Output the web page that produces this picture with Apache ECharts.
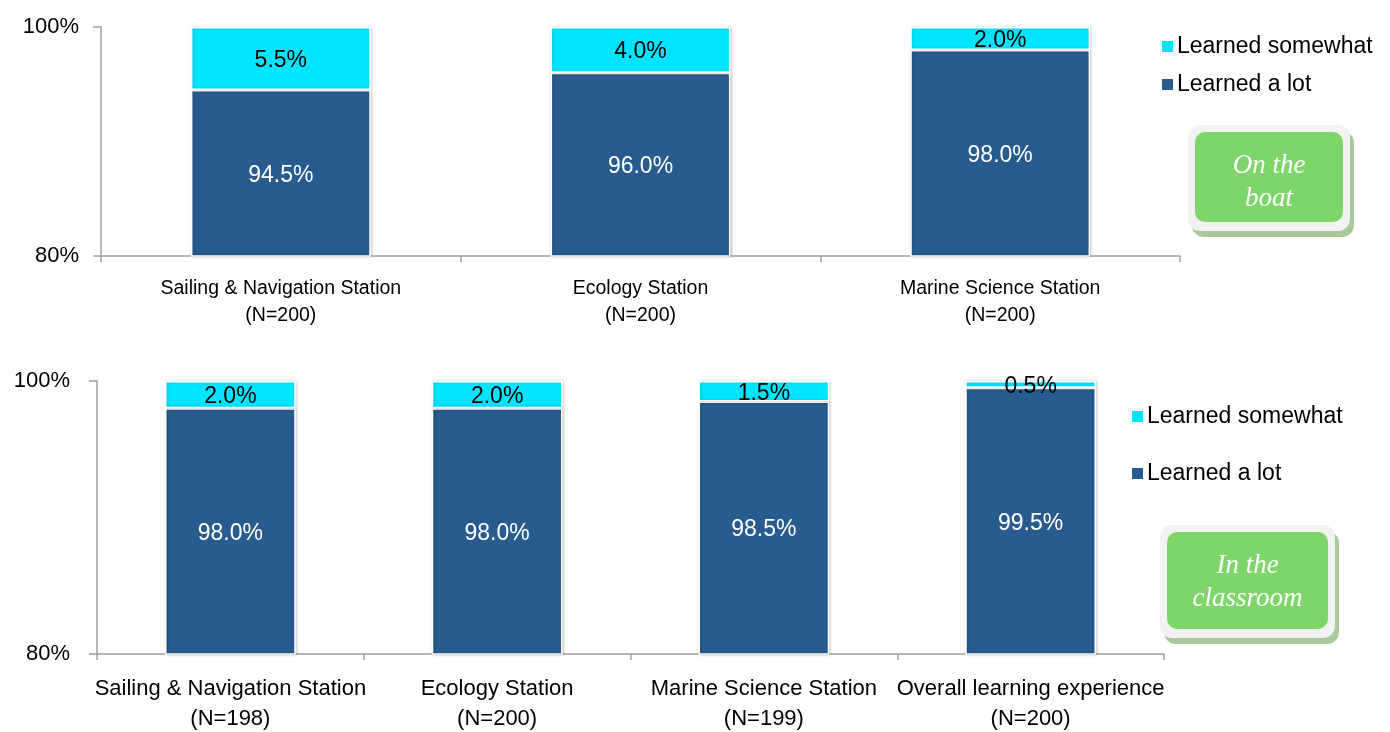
<!DOCTYPE html>
<html>
<head>
<meta charset="utf-8">
<script src="https://cdn.jsdelivr.net/npm/echarts@6/dist/echarts.min.js"></script>
<style>
  html, body { margin: 0; padding: 0; background: #fff; }
  #main { width: 1390px; height: 732px; }
</style>
</head>
<body>
<div id="main"></div>
<script>
// top panel: on the boat
var boatCategories = ['Sailing & Navigation Station\n(N=200)', 'Ecology Station\n(N=200)', 'Marine Science Station\n(N=200)'];
var boatLot = [94.5, 96.0, 98.0];
var boatSomewhat = [5.5, 4.0, 2.0];

// bottom panel: in the classroom
var classCategories = ['Sailing & Navigation Station\n(N=198)', 'Ecology Station\n(N=200)', 'Marine Science Station\n(N=199)', 'Overall learning experience\n(N=200)'];
var classLot = [98.0, 98.0, 98.5, 99.5];
var classSomewhat = [2.0, 2.0, 1.5, 0.5];

var yTicks = [80, 100];

var DARK = '#285C8E';
var CYAN = '#00E5FF';
var FONT = 'Liberation Sans, Arial, sans-serif';

function pct(p) { return p.value.toFixed(1) + '%'; }

function yAxis(idx, margin) {
    return {
        type: 'value', gridIndex: idx,
        min: yTicks[0], max: yTicks[1], interval: yTicks[1] - yTicks[0],
        axisLine: { show: true, lineStyle: { color: '#a0a0a0', width: 1.5 } },
        axisTick: { show: true, length: 8, lineStyle: { color: '#a0a0a0', width: 1.5 } },
        splitLine: { show: false },
        axisLabel: { formatter: '{value}%', color: '#000', fontSize: 22, fontFamily: FONT, margin: margin }
    };
}

function xAxis(idx, data, fontSize, lineHeight, margin) {
    return {
        type: 'category', gridIndex: idx, data: data,
        axisLine: { lineStyle: { color: '#a0a0a0', width: 1.5 } },
        axisTick: { show: true, length: 6, lineStyle: { color: '#a0a0a0', width: 1.5 } },
        axisLabel: { color: '#000', fontSize: fontSize, lineHeight: lineHeight, fontFamily: FONT, margin: margin, interval: 0 }
    };
}

function bars(idx, lot, somewhat, width) {
    var common = {
        type: 'bar', stack: 'g' + idx, xAxisIndex: idx, yAxisIndex: idx,
        barWidth: width
    };
    return [
        Object.assign({}, common, {
            name: 'Learned a lot', data: lot,
            itemStyle: { color: DARK, borderColor: '#fff', borderWidth: 1.5,
                shadowColor: 'rgba(0,0,0,0.25)', shadowBlur: 3, shadowOffsetX: 1 },
            label: { show: true, position: 'inside', offset: [0, 2], color: '#fff', fontSize: 23, fontFamily: FONT, formatter: pct }
        }),
        Object.assign({}, common, {
            name: 'Learned somewhat', data: somewhat,
            itemStyle: { color: CYAN, borderColor: '#fff', borderWidth: 1.5,
                shadowColor: 'rgba(0,0,0,0.2)', shadowBlur: 3, shadowOffsetX: 1 },
            label: { show: true, position: 'inside', offset: [0, 2], color: '#000', fontSize: 23, fontFamily: FONT, formatter: pct }
        })
    ];
}

function tag(x, y, w, h, lines, dy) {
    return {
        type: 'group', left: x, top: y,
        children: [
            { type: 'rect', shape: { x: 4, y: 6, width: w, height: h, r: 12 }, style: { fill: '#a9c99a' } },
            { type: 'rect', shape: { x: 0, y: 0, width: w, height: h, r: 12 }, style: { fill: '#f2f2f2' } },
            { type: 'rect', shape: { x: 7, y: 7, width: w - 14, height: h - 16, r: 10 }, style: { fill: '#7ED66B' } },
            { type: 'text', x: w / 2, y: h / 2 + dy,
              style: { text: lines, fill: '#fff', font: 'italic 27px "Liberation Serif", "DejaVu Serif", serif',
                       align: 'center', verticalAlign: 'middle', lineHeight: 33 } }
        ]
    };
}

var option = {
    animation: false,
    grid: [
        { left: 101, top: 27, width: 1079, height: 229, outerBoundsMode: 'none' },
        { left: 97, top: 381, width: 1067, height: 273, outerBoundsMode: 'none' }
    ],
    xAxis: [
        xAxis(0, boatCategories, 19.5, 27, 19),
        xAxis(1, classCategories, 22, 30, 20)
    ],
    yAxis: [yAxis(0, 22), yAxis(1, 27)],
    legend: [
        { orient: 'vertical', left: 1155, top: 30, itemWidth: 13, itemHeight: 13, itemGap: 15,
          icon: 'rect', textStyle: { fontSize: 23, fontFamily: FONT, color: '#000', padding: [0, 0, 0, -2] },
          data: ['Learned somewhat', 'Learned a lot'] },
        { orient: 'vertical', left: 1125, top: 400, itemWidth: 13, itemHeight: 13, itemGap: 34,
          icon: 'rect', textStyle: { fontSize: 23, fontFamily: FONT, color: '#000', padding: [0, 0, 0, -2] },
          data: ['Learned somewhat', 'Learned a lot'] }
    ],
    series: bars(0, boatLot, boatSomewhat, '50%').concat(bars(1, classLot, classSomewhat, '49%')),
    graphic: [
        tag(1188, 125, 162, 106, 'On the\nboat', 4),
        tag(1160, 525, 175, 113, 'In the\nclassroom', 1)
    ]
};

var chart = echarts.init(document.getElementById('main'));
chart.setOption(option);
</script>
</body>
</html>
